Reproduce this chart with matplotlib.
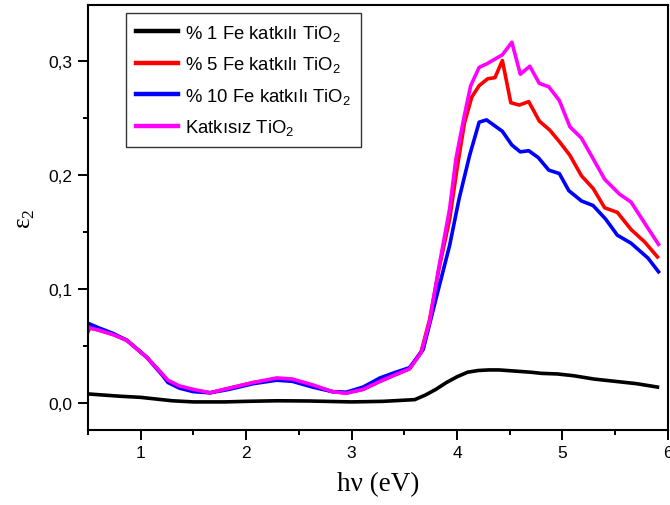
import numpy as np
import matplotlib.pyplot as plt
from matplotlib.ticker import MultipleLocator, FuncFormatter

# % 1 Fe
x_fe1 = [0.5, 0.8, 1.0, 1.3, 1.5, 1.8, 2.0, 2.3, 2.6, 3.0, 3.3, 3.6, 3.7, 3.8, 3.9, 4.0,
         4.1, 4.2, 4.3, 4.4, 4.55, 4.7, 4.8, 4.95, 5.1, 5.3, 5.5, 5.7, 5.9]
y_fe1 = [0.008, 0.006, 0.005, 0.002, 0.001, 0.001, 0.0015, 0.002, 0.0018, 0.001, 0.0015, 0.003,
         0.007, 0.012, 0.018, 0.023, 0.027, 0.0285, 0.029, 0.029, 0.028, 0.027, 0.026, 0.0255,
         0.024, 0.021, 0.019, 0.017, 0.014]

# % 5 Fe
x_fe5 = [0.5, 0.52, 0.6, 0.74, 0.87, 1.06, 1.21, 1.26, 1.37, 1.5, 1.66, 1.84, 2.07, 2.29, 2.44,
         2.63, 2.82, 2.95, 3.11, 3.27, 3.42, 3.55, 3.66, 3.74, 3.83, 3.93, 4.0, 4.07, 4.14, 4.21,
         4.29, 4.36, 4.43, 4.51, 4.59, 4.68, 4.78, 4.88, 4.97, 5.07, 5.18, 5.29, 5.40, 5.52,
         5.65, 5.78, 5.90]
y_fe5 = [0.062, 0.066, 0.064, 0.060, 0.055, 0.040, 0.025, 0.019, 0.014, 0.011, 0.009, 0.013,
         0.018, 0.021, 0.020, 0.015, 0.010, 0.009, 0.012, 0.019, 0.025, 0.030, 0.045, 0.073,
         0.118, 0.161, 0.205, 0.245, 0.268, 0.278, 0.284, 0.285, 0.300, 0.263, 0.261, 0.264,
         0.247, 0.239, 0.229, 0.217, 0.199, 0.188, 0.171, 0.167, 0.152, 0.141, 0.128]

# % 10 Fe
x_fe10 = [0.5, 0.6, 0.74, 0.87, 1.06, 1.21, 1.26, 1.37, 1.5, 1.66, 1.84, 2.07, 2.29, 2.44, 2.63,
          2.82, 2.95, 3.11, 3.27, 3.42, 3.55, 3.68, 3.80, 3.93, 4.02, 4.12, 4.21, 4.28, 4.43,
          4.52, 4.60, 4.68, 4.77, 4.87, 4.97, 5.06, 5.18, 5.29, 5.41, 5.52, 5.65, 5.81, 5.91]
y_fe10 = [0.070, 0.066, 0.061, 0.055, 0.040, 0.024, 0.018, 0.013, 0.010, 0.009, 0.012, 0.017,
          0.020, 0.019, 0.014, 0.010, 0.0095, 0.014, 0.022, 0.027, 0.031, 0.047, 0.091, 0.138,
          0.179, 0.217, 0.246, 0.248, 0.238, 0.226, 0.220, 0.221, 0.215, 0.204, 0.201, 0.186,
          0.177, 0.173, 0.161, 0.147, 0.140, 0.127, 0.115]

# Katkisiz
x_pure = [0.5, 0.6, 0.74, 0.87, 1.06, 1.21, 1.26, 1.37, 1.5, 1.66, 1.84, 2.07, 2.29, 2.44, 2.63,
          2.82, 2.95, 3.11, 3.27, 3.42, 3.55, 3.66, 3.74, 3.83, 3.93, 3.99, 4.07, 4.13, 4.21,
          4.28, 4.43, 4.52, 4.60, 4.69, 4.78, 4.87, 4.97, 5.07, 5.18, 5.29, 5.40, 5.54, 5.65,
          5.79, 5.91]
y_pure = [0.066, 0.064, 0.060, 0.055, 0.040, 0.025, 0.020, 0.015, 0.012, 0.009, 0.013, 0.018,
          0.022, 0.021, 0.016, 0.010, 0.0085, 0.012, 0.019, 0.025, 0.030, 0.044, 0.071, 0.120,
          0.170, 0.214, 0.252, 0.278, 0.294, 0.297, 0.305, 0.316, 0.288, 0.295, 0.280, 0.277,
          0.265, 0.242, 0.232, 0.214, 0.196, 0.183, 0.176, 0.156, 0.139]

labels = ['% 1 Fe katkılı TiO$_\\mathregular{2}$', '% 5 Fe katkılı TiO$_\\mathregular{2}$',
          '% 10 Fe katkılı TiO$_\\mathregular{2}$', 'Katkısız TiO$_\\mathregular{2}$']

plt.rcParams['font.family'] = ['Liberation Sans', 'DejaVu Sans']
plt.rcParams['mathtext.fontset'] = 'custom'
plt.rcParams['mathtext.rm'] = 'Liberation Sans'

fig = plt.figure(figsize=(6.7, 5.06), dpi=100)
ax = fig.add_axes([0.131, 0.148, 0.866, 0.841])

lw = 2.6
ax.plot(x_fe1, y_fe1, color='black', lw=lw, label=labels[0])
ax.plot(x_fe5, y_fe5, color='#ff0000', lw=lw, label=labels[1])
ax.plot(x_fe10, y_fe10, color='#0000ff', lw=lw, label=labels[2])
ax.plot(x_pure, y_pure, color='#ff00ff', lw=lw, label=labels[3])

ax.set_xlim(0.5, 6.0)
ax.set_ylim(-0.0237, 0.349)
ax.xaxis.set_major_locator(MultipleLocator(1))
ax.xaxis.set_minor_locator(MultipleLocator(0.5))
ax.yaxis.set_major_locator(MultipleLocator(0.1))
ax.yaxis.set_minor_locator(MultipleLocator(0.05))
ax.yaxis.set_major_formatter(FuncFormatter(lambda v, p: f'{v:.1f}'.replace('.', ',')))
ax.xaxis.set_major_formatter(FuncFormatter(lambda v, p: f'{v:.0f}'))

ax.tick_params(which='major', direction='out', length=7, width=1.4, labelsize=12.5, pad=4)
ax.tick_params(which='minor', direction='out', length=3.5, width=1.4)
for s in ax.spines.values():
    s.set_linewidth(1.5)

ax.set_xlabel('hν (eV)', family=['Liberation Serif', 'DejaVu Serif'], fontsize=19.5, labelpad=8)
ax.set_ylabel('ε$_\\mathregular{2}$', family=['Liberation Serif', 'DejaVu Serif'], fontsize=18, labelpad=8)

leg = ax.legend(loc='upper left', bbox_to_anchor=(0.0655, 0.981), fontsize=13.3, frameon=True,
                fancybox=False, edgecolor='black', handlelength=2.3, labelspacing=0.62,
                borderpad=0.55, handletextpad=0.35, borderaxespad=0)
leg.get_frame().set_linewidth(1.0)
for h in leg.get_lines():
    h.set_linewidth(3.2)

fig.savefig('out.png', dpi=100)
